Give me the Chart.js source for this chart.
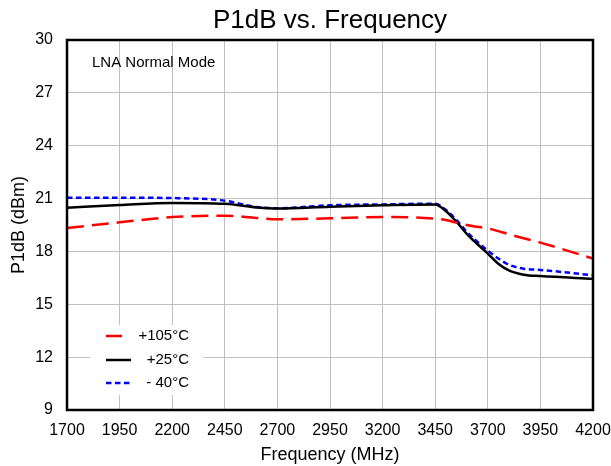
<!DOCTYPE html>
<html>
<head>
<meta charset="utf-8">
<script src="https://cdn.jsdelivr.net/npm/chart.js@4"></script>
<style>
  html, body { margin: 0; padding: 0; background: #fff; }
  #wrap { width: 611px; height: 466px; }
</style>
</head>
<body>
<div id="wrap"><canvas id="p1dbChart" width="611" height="466"></canvas></div>
<script>
const freqMHz = [1700, 1950, 2200, 2450, 2600, 2700, 2950, 3200, 3450, 3500, 3550, 3600, 3650, 3700, 3750, 3800, 3870, 3950, 4200]
const p1dbHot  = [19.33, 19.65, 19.95, 20.03, 19.9, 19.82, 19.88, 19.95, 19.86, 19.78, 19.64, 19.5, 19.4, 19.31, 19.15, 18.98, 18.75, 18.5, 17.6]
const p1dbRoom = [20.48, 20.63, 20.75, 20.7, 20.5, 20.43, 20.54, 20.62, 20.67, 20.3, 19.7, 19.0, 18.42, 17.88, 17.3, 16.92, 16.68, 16.6, 16.45]
const p1dbCold = [21.05, 21.05, 21.03, 20.88, 20.52, 20.45, 20.62, 20.67, 20.71, 20.36, 19.8, 19.12, 18.55, 18.05, 17.6, 17.25, 17.02, 16.95, 16.65]
const xTicks = [1700, 1950, 2200, 2450, 2700, 2950, 3200, 3450, 3700, 3950, 4200]
const yTicks = [9, 12, 15, 18, 21, 24, 27, 30]

const FONT = "'Liberation Sans', Arial, sans-serif"

function pts(ys){
    return freqMHz.map((f, i) => ({x: f, y: ys[i]}))
}

function noPad(s){
    s.paddingLeft = 0
    s.paddingRight = 0
    s.paddingTop = 0
    s.paddingBottom = 0
}

// title, axis name, note, frame and legend drawn straight on the canvas
const decor = {
    id: 'decor',
    afterDraw(chart){
        const ctx = chart.ctx
        const a = chart.chartArea
        ctx.save()
        ctx.fillStyle = '#000'
        ctx.textBaseline = 'middle'
        ctx.textAlign = 'center'
        ctx.font = '26px ' + FONT
        ctx.fillText('P1dB vs. Frequency', (a.left + a.right) / 2, 21)

        ctx.save()
        ctx.translate(19, (a.top + a.bottom) / 2)
        ctx.rotate(-Math.PI / 2)
        ctx.font = '18px ' + FONT
        ctx.fillText('P1dB (dBm)', 0, 0)
        ctx.restore()

        ctx.textAlign = 'left'
        ctx.font = '15px ' + FONT
        ctx.fillText('LNA Normal Mode', 92, 63)

        // legend box
        ctx.fillStyle = '#fff'
        ctx.fillRect(90, 325, 113, 70)
        const items = [
            {ds: chart.data.datasets[0], y: 336, x0: 106, x1: 122},
            {ds: chart.data.datasets[1], y: 360, x0: 106, x1: 131},
            {ds: chart.data.datasets[2], y: 383, x0: 106, x1: 130}
        ]
        items.forEach((it, i) => {
            ctx.strokeStyle = it.ds.borderColor
            ctx.lineWidth = it.ds.borderWidth
            ctx.setLineDash(i === 0 ? [] : it.ds.borderDash)
            ctx.beginPath()
            ctx.moveTo(it.x0, it.y)
            ctx.lineTo(it.x1, it.y)
            ctx.stroke()
            ctx.setLineDash([])
            ctx.fillStyle = '#000'
            ctx.textAlign = 'right'
            ctx.font = '15px ' + FONT
            ctx.fillText(it.ds.label, 189, it.y)
        })

        ctx.strokeStyle = '#000'
        ctx.lineWidth = 2.5
        ctx.strokeRect(a.left, a.top, a.right - a.left, a.bottom - a.top)
        ctx.restore()
    }
}

new Chart(document.getElementById('p1dbChart'), {
    type: 'line',
    data: {
        datasets: [
            {label: '+105°C', data: pts(p1dbHot), borderColor: '#ff0000', borderWidth: 2.5, borderDash: [17, 8]},
            {label: '+25°C', data: pts(p1dbRoom), borderColor: '#000000', borderWidth: 2.5, borderDash: []},
            {label: '- 40°C', data: pts(p1dbCold), borderColor: '#0000ff', borderWidth: 2.5, borderDash: [5.5, 3.5]}
        ]
    },
    options: {
        responsive: false,
        animation: false,
        cubicInterpolationMode: 'monotone',
        elements: {point: {radius: 0}, line: {fill: false}},
        layout: {padding: {top: 40, right: 18, left: 0, bottom: 0}},
        plugins: {legend: {display: false}, title: {display: false}, tooltip: {enabled: false}},
        scales: {
            x: {
                type: 'linear',
                min: 1700,
                max: 4200,
                afterFit: s => { s.height = 56; noPad(s) },
                afterBuildTicks: s => { s.ticks = xTicks.map(v => ({value: v})) },
                ticks: {color: '#000', font: {family: FONT, size: 16}, padding: 11, maxRotation: 0, autoSkip: false,
                        callback: v => String(v)},
                grid: {color: '#c0c0c0', lineWidth: 1, drawTicks: false},
                border: {display: false},
                title: {display: true, text: 'Frequency (MHz)', color: '#000', font: {family: FONT, size: 18}, padding: {top: 0, bottom: 0}}
            },
            y: {
                min: 9,
                max: 30,
                afterFit: s => { s.width = 67; noPad(s) },
                afterBuildTicks: s => { s.ticks = yTicks.map(v => ({value: v})) },
                ticks: {color: '#000', font: {family: FONT, size: 16}, padding: 14, callback: v => String(v)},
                grid: {color: '#c0c0c0', lineWidth: 1, drawTicks: false},
                border: {display: false}
            }
        }
    },
    plugins: [decor]
})
</script>
</body>
</html>
